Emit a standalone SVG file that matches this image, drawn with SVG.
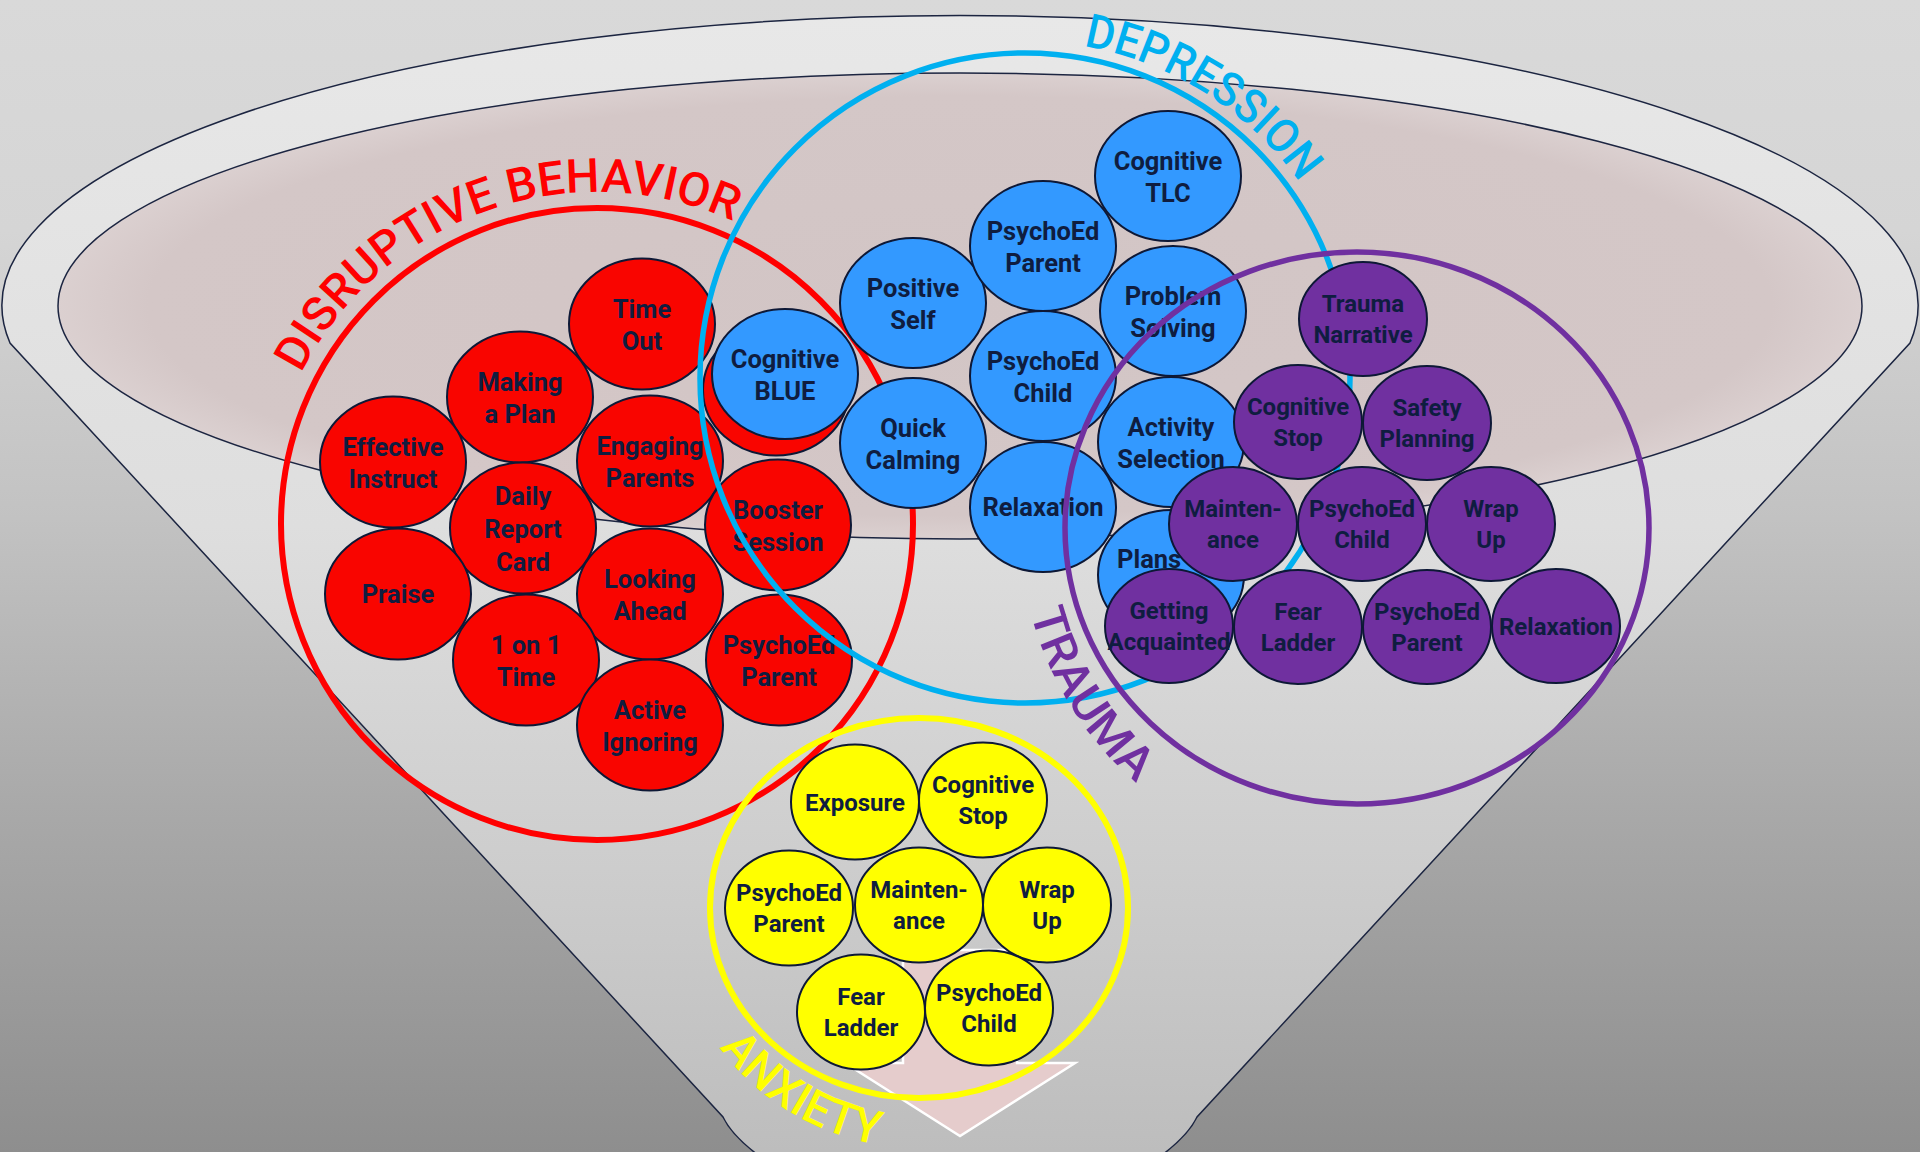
<svg xmlns="http://www.w3.org/2000/svg" width="1920" height="1152" viewBox="0 0 1920 1152">
<defs>
<linearGradient id="bg" x1="0" y1="0" x2="0" y2="1152" gradientUnits="userSpaceOnUse">
<stop offset="0" stop-color="#d9d9d9"/>
<stop offset="0.2" stop-color="#d5d5d5"/>
<stop offset="0.45" stop-color="#c2c2c2"/>
<stop offset="0.7" stop-color="#a9a9a9"/>
<stop offset="1" stop-color="#8e8e8e"/>
</linearGradient>
<linearGradient id="fun" x1="0" y1="16" x2="0" y2="1152" gradientUnits="userSpaceOnUse">
<stop offset="0" stop-color="#e8e8e8"/>
<stop offset="0.45" stop-color="#dedede"/>
<stop offset="0.75" stop-color="#cdcdcd"/>
<stop offset="1" stop-color="#bdbdbd"/>
</linearGradient>
<radialGradient id="inner" cx="0.5" cy="0.5" r="0.5">
<stop offset="0" stop-color="#d2c5c5"/>
<stop offset="0.9" stop-color="#d4c7c7"/>
<stop offset="1" stop-color="#dbd0d0"/>
</radialGradient>
<path id="arcRed" d="M 301.2,373.3 A 332 332 0 0 1 763,236.5"/>
<path id="arcBlue" d="M 1083.5,46.1 A 337 337 0 0 1 1330.4,235.6"/>
<path id="arcPurple" d="M 1030.7,612.4 A 337 337 0 0 0 1163.7,804.1"/>
<path id="arcYellow" d="M 719.6,1047.5 A 248 248 0 0 0 897.4,1147.1"/>
</defs>
<style>
.node{stroke:#0d1836;stroke-width:2}
.red{fill:#f90500}
.blue{fill:#3399ff}
.purple{fill:#7030a0}
.yellow{fill:#ffff00}
.t{font-family:Roboto,"Liberation Sans",sans-serif;font-weight:700;fill:#0f1d40;text-anchor:middle}
.big{font-size:25.5px}
.sm{font-size:24px}
.ring{fill:none}
.lab{font-family:Roboto,"Liberation Sans",sans-serif;font-size:47px;font-weight:500}
.edge{stroke:#1c2541;stroke-width:1.5}
</style>
<rect x="0" y="0" width="1920" height="1152" fill="url(#bg)"/>
<g id="funnel">
<path class="edge" fill="url(#fun)" d="M 10,343 A 958 290 0 1 1 1910,343 L 1197,1117 Q 1185,1142 1140,1170 L 780,1170 Q 735,1142 723,1117 Z"/>
<ellipse class="edge" cx="960" cy="306" rx="902" ry="233" fill="url(#inner)"/>
<polygon points="903,950 1017,950 1017,1063 1075,1063 960,1136 845,1063 903,1063" fill="#e5cccc" stroke="#ffffff" stroke-width="2.5"/>
</g>
<g id="ring-disruptive-behavior">
<circle class="ring" cx="597" cy="524" r="316" stroke="#ff0000" stroke-width="6"/>
<text class="lab" fill="#ff0000"><textPath href="#arcRed" textLength="505" lengthAdjust="spacingAndGlyphs">DISRUPTIVE BEHAVIOR</textPath></text>
</g>
<g id="red-nodes">
<g id="n-time-out"><ellipse class="node red" cx="642" cy="324" rx="73" ry="65.5"/><text class="t big"><tspan x="642" y="318">Time</tspan><tspan x="642" y="350">Out</tspan></text></g>
<g id="n-making-a-plan"><ellipse class="node red" cx="520" cy="397" rx="73" ry="65.5"/><text class="t big"><tspan x="520" y="391">Making</tspan><tspan x="520" y="423">a Plan</tspan></text></g>
<g id="n-effective-instruct"><ellipse class="node red" cx="393" cy="462" rx="73" ry="65.5"/><text class="t big"><tspan x="393" y="456">Effective</tspan><tspan x="393" y="488">Instruct</tspan></text></g>
<g id="n-engaging-parents"><ellipse class="node red" cx="650" cy="461" rx="73" ry="65.5"/><text class="t big"><tspan x="650" y="455">Engaging</tspan><tspan x="650" y="487">Parents</tspan></text></g>
<g id="n-daily-report-card"><ellipse class="node red" cx="523" cy="528" rx="73" ry="65.5"/><text class="t big"><tspan x="523" y="505">Daily</tspan><tspan x="523" y="538">Report</tspan><tspan x="523" y="571">Card</tspan></text></g>
<g id="n-praise"><ellipse class="node red" cx="398" cy="594" rx="73" ry="65.5"/><text class="t big" x="398" y="603">Praise</text></g>
<g id="n-looking-ahead"><ellipse class="node red" cx="650" cy="594" rx="73" ry="65.5"/><text class="t big"><tspan x="650" y="588">Looking</tspan><tspan x="650" y="620">Ahead</tspan></text></g>
<g id="n-1on1-time"><ellipse class="node red" cx="526" cy="660" rx="73" ry="65.5"/><text class="t big"><tspan x="526" y="654">1 on 1</tspan><tspan x="526" y="686">Time</tspan></text></g>
<g id="n-active-ignoring"><ellipse class="node red" cx="650" cy="725" rx="73" ry="65.5"/><text class="t big"><tspan x="650" y="719">Active</tspan><tspan x="650" y="751">Ignoring</tspan></text></g>
<g id="n-red-hidden"><ellipse class="node red" cx="776" cy="390" rx="73" ry="65.5"/></g>
<g id="n-booster-session"><ellipse class="node red" cx="778" cy="525" rx="73" ry="65.5"/><text class="t big"><tspan x="778" y="519">Booster</tspan><tspan x="778" y="551">Session</tspan></text></g>
<g id="n-psychoed-parent-red"><ellipse class="node red" cx="779" cy="660" rx="73" ry="65.5"/><text class="t big"><tspan x="779" y="654">PsychoEd</tspan><tspan x="779" y="686">Parent</tspan></text></g>
</g>
<g id="ring-depression">
<circle class="ring" cx="1025" cy="378" r="325" stroke="#00b0f0" stroke-width="5.5"/>
<text class="lab" fill="#00b0f0"><textPath href="#arcBlue" textLength="262" lengthAdjust="spacingAndGlyphs">DEPRESSION</textPath></text>
</g>
<g id="blue-nodes">
<g id="n-cognitive-blue"><ellipse class="node blue" cx="785" cy="374" rx="73" ry="65"/><text class="t big"><tspan x="785" y="368">Cognitive</tspan><tspan x="785" y="400">BLUE</tspan></text></g>
<g id="n-positive-self"><ellipse class="node blue" cx="913" cy="303" rx="73" ry="65"/><text class="t big"><tspan x="913" y="297">Positive</tspan><tspan x="913" y="329">Self</tspan></text></g>
<g id="n-quick-calming"><ellipse class="node blue" cx="913" cy="443" rx="73" ry="65"/><text class="t big"><tspan x="913" y="437">Quick</tspan><tspan x="913" y="469">Calming</tspan></text></g>
<g id="n-psychoed-parent-blue"><ellipse class="node blue" cx="1043" cy="246" rx="73" ry="65"/><text class="t big"><tspan x="1043" y="240">PsychoEd</tspan><tspan x="1043" y="272">Parent</tspan></text></g>
<g id="n-psychoed-child-blue"><ellipse class="node blue" cx="1043" cy="376" rx="73" ry="65"/><text class="t big"><tspan x="1043" y="370">PsychoEd</tspan><tspan x="1043" y="402">Child</tspan></text></g>
<g id="n-relaxation-blue"><ellipse class="node blue" cx="1043" cy="507" rx="73" ry="65"/><text class="t big" x="1043" y="516">Relaxation</text></g>
<g id="n-cognitive-tlc"><ellipse class="node blue" cx="1168" cy="176" rx="73" ry="65"/><text class="t big"><tspan x="1168" y="170">Cognitive</tspan><tspan x="1168" y="202">TLC</tspan></text></g>
<g id="n-problem-solving"><ellipse class="node blue" cx="1173" cy="311" rx="73" ry="65"/><text class="t big"><tspan x="1173" y="305">Problem</tspan><tspan x="1173" y="337">Solving</tspan></text></g>
<g id="n-activity-selection"><ellipse class="node blue" cx="1171" cy="442" rx="73" ry="65"/><text class="t big"><tspan x="1171" y="436">Activity</tspan><tspan x="1171" y="468">Selection</tspan></text></g>
<g id="n-plans"><ellipse class="node blue" cx="1171" cy="575" rx="73" ry="65"/><text class="t big" x="1117" y="568" style="text-anchor:start">Plans</text></g>
</g>
<g id="ring-trauma">
<ellipse class="ring" cx="1357" cy="528" rx="292" ry="276" stroke="#7030a0" stroke-width="5.5"/>
</g>
<g id="purple-nodes">
<g id="n-trauma-narrative"><ellipse class="node purple" cx="1363" cy="319" rx="64" ry="57"/><text class="t sm"><tspan x="1363" y="312">Trauma</tspan><tspan x="1363" y="343">Narrative</tspan></text></g>
<g id="n-cognitive-stop-purple"><ellipse class="node purple" cx="1298" cy="422" rx="64" ry="57"/><text class="t sm"><tspan x="1298" y="415">Cognitive</tspan><tspan x="1298" y="446">Stop</tspan></text></g>
<g id="n-safety-planning"><ellipse class="node purple" cx="1427" cy="423" rx="64" ry="57"/><text class="t sm"><tspan x="1427" y="416">Safety</tspan><tspan x="1427" y="447">Planning</tspan></text></g>
<g id="n-maintenance-purple"><ellipse class="node purple" cx="1233" cy="524" rx="64" ry="57"/><text class="t sm"><tspan x="1233" y="517">Mainten-</tspan><tspan x="1233" y="548">ance</tspan></text></g>
<g id="n-psychoed-child-purple"><ellipse class="node purple" cx="1362" cy="524" rx="64" ry="57"/><text class="t sm"><tspan x="1362" y="517">PsychoEd</tspan><tspan x="1362" y="548">Child</tspan></text></g>
<g id="n-wrap-up-purple"><ellipse class="node purple" cx="1491" cy="524" rx="64" ry="57"/><text class="t sm"><tspan x="1491" y="517">Wrap</tspan><tspan x="1491" y="548">Up</tspan></text></g>
<g id="n-getting-acquainted"><ellipse class="node purple" cx="1169" cy="626" rx="64" ry="57"/><text class="t sm"><tspan x="1169" y="619">Getting</tspan><tspan x="1169" y="650">Acquainted</tspan></text></g>
<g id="n-fear-ladder-purple"><ellipse class="node purple" cx="1298" cy="627" rx="64" ry="57"/><text class="t sm"><tspan x="1298" y="620">Fear</tspan><tspan x="1298" y="651">Ladder</tspan></text></g>
<g id="n-psychoed-parent-purple"><ellipse class="node purple" cx="1427" cy="627" rx="64" ry="57"/><text class="t sm"><tspan x="1427" y="620">PsychoEd</tspan><tspan x="1427" y="651">Parent</tspan></text></g>
<g id="n-relaxation-purple"><ellipse class="node purple" cx="1556" cy="626" rx="64" ry="57"/><text class="t sm" x="1556" y="635">Relaxation</text></g>
</g>
<g id="label-trauma">
<text class="lab" fill="#7030a0"><textPath href="#arcPurple" textLength="204" lengthAdjust="spacingAndGlyphs">TRAUMA</textPath></text>
</g>
<g id="ring-anxiety">
<ellipse class="ring" cx="919" cy="908" rx="209" ry="190" stroke="#ffff00" stroke-width="6"/>
<text class="lab" fill="#ffff00"><textPath href="#arcYellow" textLength="190" lengthAdjust="spacingAndGlyphs">ANXIETY</textPath></text>
</g>
<g id="yellow-nodes">
<g id="n-exposure"><ellipse class="node yellow" cx="855" cy="802" rx="64" ry="57.5"/><text class="t sm" x="855" y="811">Exposure</text></g>
<g id="n-cognitive-stop-yellow"><ellipse class="node yellow" cx="983" cy="800" rx="64" ry="57.5"/><text class="t sm"><tspan x="983" y="793">Cognitive</tspan><tspan x="983" y="824">Stop</tspan></text></g>
<g id="n-psychoed-parent-yellow"><ellipse class="node yellow" cx="789" cy="908" rx="64" ry="57.5"/><text class="t sm"><tspan x="789" y="901">PsychoEd</tspan><tspan x="789" y="932">Parent</tspan></text></g>
<g id="n-maintenance-yellow"><ellipse class="node yellow" cx="919" cy="905" rx="64" ry="57.5"/><text class="t sm"><tspan x="919" y="898">Mainten-</tspan><tspan x="919" y="929">ance</tspan></text></g>
<g id="n-wrap-up-yellow"><ellipse class="node yellow" cx="1047" cy="905" rx="64" ry="57.5"/><text class="t sm"><tspan x="1047" y="898">Wrap</tspan><tspan x="1047" y="929">Up</tspan></text></g>
<g id="n-fear-ladder-yellow"><ellipse class="node yellow" cx="861" cy="1012" rx="64" ry="57.5"/><text class="t sm"><tspan x="861" y="1005">Fear</tspan><tspan x="861" y="1036">Ladder</tspan></text></g>
<g id="n-psychoed-child-yellow"><ellipse class="node yellow" cx="989" cy="1008" rx="64" ry="57.5"/><text class="t sm"><tspan x="989" y="1001">PsychoEd</tspan><tspan x="989" y="1032">Child</tspan></text></g>
</g>
<g id="connectors"/>
</svg>
